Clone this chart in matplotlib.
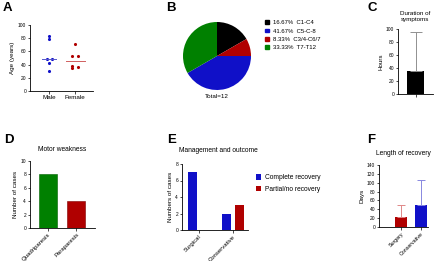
import numpy as np
import matplotlib
matplotlib.use('Agg')
import matplotlib.pyplot as plt
from matplotlib.patches import Patch

# data
male_age = [83, 79, 48, 49, 43, 31]
female_age = [71, 53, 53, 38, 35, 37]
age_groups = ['Male', 'Female']

level_pct = [16.67, 8.33, 41.67, 33.33]          # pie order (clockwise)
level_names = ['C1-C4', 'C3/4-C6/7', 'C5-C-8', 'T7-T12']
level_cols = ['black', '#b00000', '#1010c8', '#008000']
legend_order = [0, 2, 1, 3]

dur_mean = [35]
dur_err = [60]

motor_cats = ['Quadriparesis', 'Paraparesis']
motor_vals = [8, 4]

mgmt_cats = ['Surgical', 'Conservative']
complete_vals = [7, 2]
partial_vals = [0, 3]

rec_cats = ['Surgery', 'Conservative']
rec_mean = [22, 49]
rec_err = [28, 58]

W, H = 440, 261
fig = plt.figure(figsize=(W / 100, H / 100), dpi=100)
plt.rcParams['font.family'] = 'Liberation Sans'

def px_axes(l, t, r, b):
    return fig.add_axes([l / W, 1 - b / H, (r - l) / W, (b - t) / H])

def prism(ax):
    for s in ['top', 'right']:
        ax.spines[s].set_visible(False)
    for s in ['left', 'bottom']:
        ax.spines[s].set_linewidth(0.6)
    ax.tick_params(labelsize=3.5, width=0.5, length=1.8, pad=1)

def letter(x, y, s):
    fig.text(x / W, 1 - y / H, s, fontsize=9.5, fontweight='bold', ha='center', va='center')

BLUE = '#1010c8'
RED = '#b00000'
GREEN = '#008000'

# A
ax = px_axes(30, 25, 93, 91)
prism(ax)
jit = [0.0, 0.0, -0.1, 0.1, 0.0, 0.0]
jitf = [0.0, -0.1, 0.1, -0.1, -0.1, 0.1]
ax.scatter(np.zeros(len(male_age)) + jit, male_age, s=5, color=BLUE, lw=0)
ax.scatter(np.ones(len(female_age)) + jitf, female_age, s=5, color=RED, lw=0)
ax.plot([-0.28, 0.28], [np.median(male_age)] * 2, color='#5555cc', lw=0.7)
ax.plot([0.65, 1.38], [np.median(female_age)] * 2, color='#d06060', lw=0.7)
ax.set_xlim(-0.75, 1.7)
ax.set_ylim(0, 100)
ax.set_yticks(range(0, 101, 20))
ax.set_xticks([0, 1])
ax.set_xticklabels(age_groups, fontsize=4.5)
ax.set_ylabel('Age (years)', fontsize=4.5, labelpad=2)
letter(7, 8, 'A')

# B
ax = px_axes(183, 22, 251, 90)
ax.pie(level_pct, colors=level_cols, startangle=90, counterclock=False,
       wedgeprops=dict(linewidth=0))
ax.set_xlim(-1, 1)
ax.set_ylim(-1, 1)
ax.set_aspect('equal')
handles = [Patch(color=level_cols[i], label='%.2f%%  %s' % (level_pct[i], level_names[i]))
           for i in legend_order]
fig.legend(handles=handles, loc='upper left', bbox_to_anchor=(260 / W, 1 - 15 / H),
           frameon=False, fontsize=4.3, handlelength=0.6, handleheight=0.6,
           handletextpad=0.6, labelspacing=0.55)
fig.text(217 / W, 1 - 97 / H, 'Total=12', fontsize=4.5, ha='center', va='center')
letter(171, 8, 'B')

# C
ax = px_axes(398, 29, 433, 94)
prism(ax)
ax.bar([0], dur_mean, width=1.0, color='black')
ax.errorbar([0], dur_mean, yerr=[[0], dur_err], fmt='none', ecolor='#909090',
            elinewidth=0.7, capsize=4, capthick=0.7)
ax.set_xlim(-1, 1)
ax.set_ylim(0, 100)
ax.set_yticks(range(0, 101, 20))
ax.set_xticks([0])
ax.set_xticklabels([''])
ax.set_ylabel('Hours', fontsize=4.5, labelpad=2)
ax.set_title('Duration of\nsymptoms', fontsize=4.5, pad=6, linespacing=1.1)
letter(372, 8, 'C')

# D
ax = px_axes(30, 161, 95, 228)
prism(ax)
ax.bar([0, 1], motor_vals, width=0.63, color=[GREEN, RED],
       edgecolor=['#006000', '#800000'], linewidth=0.4)
ax.set_xlim(-0.63, 1.65)
ax.set_ylim(0, 10)
ax.set_yticks(range(0, 11, 2))
ax.set_xticks([0, 1])
ax.set_xticklabels(motor_cats, rotation=45, ha='right', rotation_mode='anchor', fontsize=4.3)
ax.set_ylabel('Number of cases', fontsize=4.5, labelpad=2)
ax.set_title('Motor weakness', fontsize=4.8, pad=7)
letter(9, 140, 'D')

# E
ax = px_axes(182, 164, 248, 230)
prism(ax)
x = np.arange(len(mgmt_cats))
ax.bar(x - 0.19, complete_vals, width=0.25, color=BLUE, label='Complete recovery')
ax.bar(x + 0.19, partial_vals, width=0.25, color=RED, label='Partial/no recovery')
ax.set_xlim(-0.5, 1.44)
ax.set_ylim(0, 8)
ax.set_yticks(range(0, 9, 2))
ax.set_xticks(x)
ax.set_xticklabels(mgmt_cats, rotation=45, ha='right', rotation_mode='anchor', fontsize=4.3)
ax.set_ylabel('Numbers of cases', fontsize=4.5, labelpad=2)
ax.legend(loc='upper left', bbox_to_anchor=(250 / W, 1 - 168 / H), bbox_transform=fig.transFigure,
          frameon=False, fontsize=4.8, handlelength=0.8, handleheight=0.9,
          handletextpad=0.6, labelspacing=0.7)
fig.text(179 / W, 1 - 150 / H, 'Management and outcome', fontsize=4.8, ha='left', va='center')
letter(172, 140, 'E')

# F
ax = px_axes(379, 165, 428, 227)
prism(ax)
ax.bar([0, 1], rec_mean, width=0.62, color=[RED, BLUE])
ax.errorbar([0], [rec_mean[0]], yerr=[[0], [rec_err[0]]], fmt='none', ecolor='#e08888',
            elinewidth=0.7, capsize=3, capthick=0.7)
ax.errorbar([1], [rec_mean[1]], yerr=[[0], [rec_err[1]]], fmt='none', ecolor='#8888e0',
            elinewidth=0.7, capsize=3, capthick=0.7)
ax.set_xlim(-1.13, 1.38)
ax.set_ylim(0, 140)
ax.set_yticks(range(0, 141, 20))
ax.set_xticks([0, 1])
ax.set_xticklabels(rec_cats, rotation=45, ha='right', rotation_mode='anchor', fontsize=3.8)
ax.set_ylabel('Days', fontsize=4.5, labelpad=2)
ax.set_title('Length of recovery', fontsize=4.8, pad=7)
letter(371, 140, 'F')

fig.savefig('out.png', dpi=100)
